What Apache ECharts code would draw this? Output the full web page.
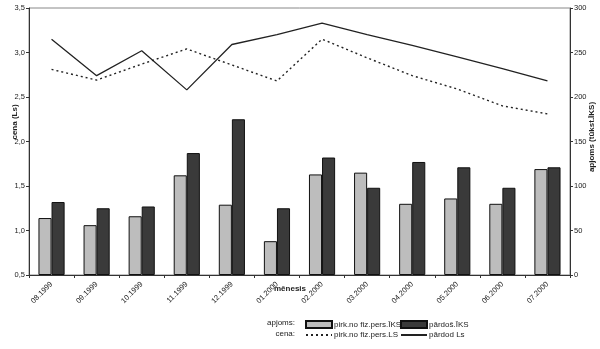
<!DOCTYPE html>
<html><head><meta charset="utf-8">
<script src="https://cdn.jsdelivr.net/npm/echarts@6/dist/echarts.min.js"></script>
<style>html,body{margin:0;padding:0;background:#fff}#c{width:600px;height:349px}</style>
</head><body><div id="c"></div>
<script>
const months = ['08.1999','09.1999','10.1999','11.1999','12.1999','01.2000','02.2000','03.2000','04.2000','05.2000','06.2000','07.2000'];
// apjoms (tūkst. ĪKS) - right axis
const volBuyPersons = [64, 56, 66, 112, 79, 38, 113, 115, 80, 86, 80, 119];
const volSold = [82, 75, 77, 137, 175, 75, 132, 98, 127, 121, 98, 121];
// cena (Ls) - left axis
const priceBuyPersons = [2.81, 2.69, 2.87, 3.04, 2.86, 2.68, 3.15, 2.94, 2.74, 2.59, 2.40, 2.31];
const priceSold = [3.15, 2.74, 3.02, 2.58, 3.09, 3.20, 3.33, 3.20, 3.08, 2.95, 2.82, 2.68];
const leftTicks = {min: 0.5, max: 3.5, step: 0.5};
const rightTicks = {min: 0, max: 300, step: 50};
const names = {
  volBuy: 'pirk.no fiz.pers.ĪKS', volSold: 'pārdoš.ĪKS',
  priceBuy: 'pirk.no fiz.pers.LS', priceSold: 'pārdod Ls'
};

const FF = '"Liberation Sans", Arial, sans-serif';
const TC = '#222';
const chart = echarts.init(document.getElementById('c'), null, {renderer: 'canvas'});
const legendBase = {orient: 'horizontal', padding: 0, itemWidth: 26, itemHeight: 7, itemGap: 0,
  textStyle: {fontFamily: FF, fontSize: 8, color: TC, padding: [0,0,0,-3]}};
const lineLegend = {itemStyle: {opacity: 0, borderWidth: 0}};
chart.setOption({
  animation: false,
  textStyle: {fontFamily: FF},
  grid: {left: 29, right: 30, top: 8, bottom: 74, show: true, borderColor: '#888', borderWidth: 1},
  legend: [
    Object.assign({}, legendBase, {left: 305, top: 320, icon: 'rect', data: [names.volBuy]}),
    Object.assign({}, legendBase, {left: 400, top: 320, icon: 'rect', data: [names.volSold]}),
    Object.assign({}, legendBase, lineLegend, {left: 305, top: 331, data: [names.priceBuy]}),
    Object.assign({}, legendBase, lineLegend, {left: 400, top: 331, data: [names.priceSold]})
  ],
  xAxis: {
    type: 'category', data: months,
    axisLine: {lineStyle: {color: '#333', width: 1}},
    axisTick: {show: true, length: 3, lineStyle: {color: '#333'}},
    axisLabel: {rotate: 45, fontSize: 7.5, color: TC, margin: 8, fontFamily: FF}
  },
  yAxis: [
    {type: 'value', min: leftTicks.min, max: leftTicks.max, interval: leftTicks.step,
     splitLine: {show: false},
     axisLine: {show: true, lineStyle: {color: '#333'}},
     axisTick: {show: true, length: 3, lineStyle: {color: '#333'}},
     axisLabel: {fontSize: 7.5, color: TC, margin: 4, fontFamily: FF,
       formatter: v => v.toFixed(1).replace('.', ',')}},
    {type: 'value', min: rightTicks.min, max: rightTicks.max, interval: rightTicks.step,
     splitLine: {show: false},
     axisLine: {show: true, lineStyle: {color: '#333'}},
     axisTick: {show: true, length: 3, lineStyle: {color: '#333'}},
     axisLabel: {fontSize: 7.5, color: TC, margin: 4, fontFamily: FF}}
  ],
  series: [
    {name: names.volBuy, type: 'bar', yAxisIndex: 1, data: volBuyPersons,
     barGap: '0%', barCategoryGap: '42%',
     itemStyle: {color: '#bdbdbd', borderColor: '#111', borderWidth: 1}},
    {name: names.volSold, type: 'bar', yAxisIndex: 1, data: volSold,
     itemStyle: {color: '#3a3a3a', borderColor: '#111', borderWidth: 1}},
    {name: names.priceBuy, type: 'line', yAxisIndex: 0, data: priceBuyPersons,
     symbol: 'none', lineStyle: {color: '#222', width: 1.4, type: [2, 3]}, itemStyle: {color: '#222'}},
    {name: names.priceSold, type: 'line', yAxisIndex: 0, data: priceSold,
     symbol: 'none', lineStyle: {color: '#222', width: 1.3, type: 'solid'}, itemStyle: {color: '#222'}}
  ],
  graphic: [
    {type: 'text', x: 15, y: 122, rotation: Math.PI/2,
     style: {text: 'cena (Ls)', fill: TC, font: 'bold 8px ' + FF, align: 'center', verticalAlign: 'middle', textAlign: 'center', textVerticalAlign: 'middle'}},
    {type: 'text', x: 592, y: 137, rotation: Math.PI/2,
     style: {text: 'apjoms (tūkst.ĪKS)', fill: TC, font: 'bold 8px ' + FF, align: 'center', verticalAlign: 'middle', textAlign: 'center', textVerticalAlign: 'middle'}},
    {type: 'text', x: 290, y: 289,
     style: {text: 'mēnesis', fill: TC, font: 'bold 8px ' + FF, align: 'center', verticalAlign: 'middle', textAlign: 'center', textVerticalAlign: 'middle'}},
    {type: 'text', x: 295, y: 323,
     style: {text: 'apjoms:', fill: TC, font: '8px ' + FF, align: 'right', verticalAlign: 'middle', textAlign: 'right', textVerticalAlign: 'middle'}},
    {type: 'text', x: 295, y: 334,
     style: {text: 'cena:', fill: TC, font: '8px ' + FF, align: 'right', verticalAlign: 'middle', textAlign: 'right', textVerticalAlign: 'middle'}}
  ]
});
</script></body></html>
